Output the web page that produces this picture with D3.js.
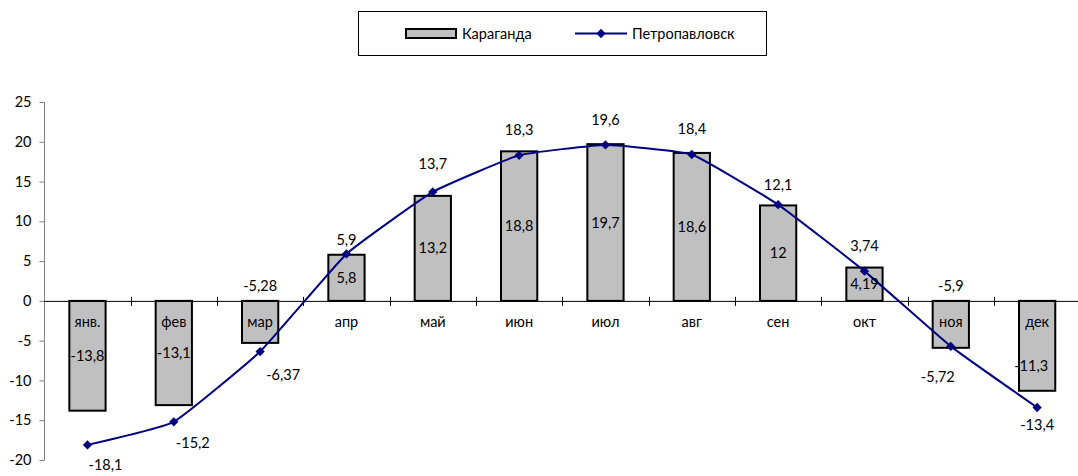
<!DOCTYPE html>
<html><head><meta charset="utf-8">
<script src="https://cdn.jsdelivr.net/npm/d3@7"></script>
<style>
html,body{margin:0;padding:0;background:#fff;}
svg{display:block;font-family:Lato,"Open Sans",sans-serif;}
</style></head>
<body><svg id="c" width="1078" height="476"></svg>
<script>
const months = ["янв.","фев","мар","апр","май","июн","июл","авг","сен","окт","ноя","дек"];
const karaganda = [-13.8,-13.1,-5.28,5.8,13.2,18.8,19.7,18.6,12,4.19,-5.9,-11.3];
const petropavlovsk = [-18.1,-15.2,-6.37,5.9,13.7,18.3,19.6,18.4,12.1,3.74,-5.72,-13.4];
const yTicks = [-20,-15,-10,-5,0,5,10,15,20,25];
const seriesNames = ["Караганда","Петропавловск"];

// label placement tweaks (pixels relative to default anchor)
const barLabelPos = [[0,0],[0,0],["zeroAbove"],[0,0],[0,0],[0,0],[0,0],[0,0],[0,0],[0,0],["zeroAbove"],[-6,20]];
const lineLabelPos = [[18,20],[19,21],[23,23],[0,-14],[0,-28],[0,-25],[0,-25],[0,-26],[0,-20],[0,-25],[-13,31],[0,18]];

const fmt = v => String(v).replace(".", ",");
const svg = d3.select("#c");
const x = d3.scaleBand().domain(months).range([44.3, 1080.3]).padding(0);
const y = d3.scaleLinear().domain([-20,25]).range([460,102]);
const fontSize = 14.5;

// y axis
const yAxis = d3.axisLeft(y).tickValues(yTicks).tickSize(5).tickPadding(8).tickFormat(d=>d);
const ga = svg.append("g").attr("transform","translate(44.5,0)").call(yAxis);
ga.select(".domain").attr("stroke","#808080").attr("d","M0,"+y(25)+"V"+y(-20));
ga.selectAll(".tick line").attr("stroke","#808080");
ga.selectAll(".tick text").attr("font-size",fontSize).attr("font-family","Lato,'Open Sans',sans-serif").attr("fill","#000");

// bars
const bw = x.bandwidth()*0.42;
svg.append("g").selectAll("rect").data(karaganda).join("rect")
  .attr("x",(d,i)=>x(months[i])+x.bandwidth()/2-bw/2)
  .attr("y",d=>Math.min(y(d),y(0)))
  .attr("width",bw)
  .attr("height",d=>Math.abs(y(d)-y(0)))
  .attr("fill","#C0C0C0").attr("stroke","#000").attr("stroke-width",2);

// zero line (category axis)
svg.append("line").attr("x1",44).attr("x2",1078).attr("y1",y(0)+0.5).attr("y2",y(0)+0.5).attr("stroke","#000").attr("stroke-width",1);
svg.append("g").selectAll("line").data(months.slice(1)).join("line")
  .attr("x1",d=>Math.round(x(d))+0.5).attr("x2",d=>Math.round(x(d))+0.5)
  .attr("y1",y(0)-4).attr("y2",y(0)+5).attr("stroke","#000");

// category labels
svg.append("g").selectAll("text").data(months).join("text")
  .attr("x",d=>x(d)+x.bandwidth()/2).attr("y",y(0)+26)
  .attr("text-anchor","middle").attr("font-size",fontSize).text(d=>d);

// line
const cx = i => x(months[i])+x.bandwidth()/2;
const line = d3.line().x((d,i)=>cx(i)).y(d=>y(d)).curve(d3.curveCardinal.tension(0.65));
svg.append("path").datum(petropavlovsk).attr("d",line).attr("fill","none").attr("stroke","#000080").attr("stroke-width",2);
const diamond = d3.symbol().type(d3.symbolDiamond2).size(55);
svg.append("g").selectAll("path").data(petropavlovsk).join("path")
  .attr("d",diamond).attr("transform",(d,i)=>`translate(${cx(i)},${y(d)})`).attr("fill","#000080");

// bar labels
svg.append("g").selectAll("text").data(karaganda).join("text")
  .attr("x",(d,i)=>cx(i)+(barLabelPos[i][0]==="zeroAbove"?0:barLabelPos[i][0]))
  .attr("y",(d,i)=>barLabelPos[i][0]==="zeroAbove"? y(0)-10 : y(d/2)+5+barLabelPos[i][1])
  .attr("text-anchor","middle").attr("font-size",fontSize).text(d=>fmt(d));

// line labels
svg.append("g").selectAll("text").data(petropavlovsk).join("text")
  .attr("x",(d,i)=>cx(i)+lineLabelPos[i][0])
  .attr("y",(d,i)=>y(d)+lineLabelPos[i][1]+5)
  .attr("text-anchor","middle").attr("font-size",fontSize).text(d=>fmt(d));

// legend
const lg = svg.append("g");
lg.append("rect").attr("x",358.5).attr("y",11.5).attr("width",408).attr("height",44).attr("fill","#fff").attr("stroke","#000");
lg.append("rect").attr("x",406).attr("y",29).attr("width",50).attr("height",9).attr("fill","#C0C0C0").attr("stroke","#000").attr("stroke-width",2);
lg.append("text").attr("x",462).attr("y",38.5).attr("font-size",fontSize).text(seriesNames[0]);
lg.append("line").attr("x1",575).attr("x2",627).attr("y1",33.5).attr("y2",33.5).attr("stroke","#000080").attr("stroke-width",2);
lg.append("path").attr("d",diamond).attr("transform","translate(601,33.5)").attr("fill","#000080");
lg.append("text").attr("x",632).attr("y",38.5).attr("font-size",fontSize).text(seriesNames[1]);
</script></body></html>
